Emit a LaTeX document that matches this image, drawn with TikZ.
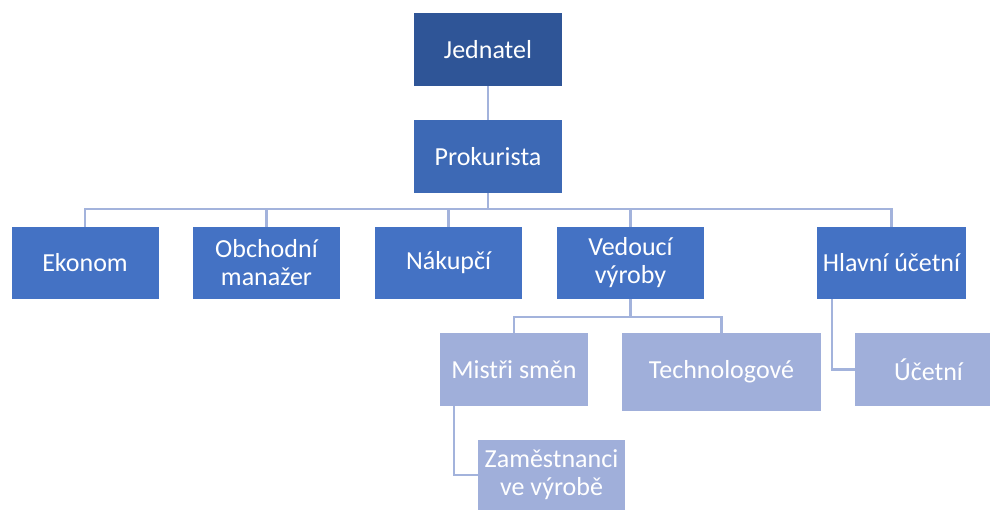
\documentclass[tikz,border=0pt]{standalone}
\usepackage{fontspec}
\setmainfont{Carlito}
\definecolor{cTop}{HTML}{2F5597}
\definecolor{cSec}{HTML}{3D69B5}
\definecolor{cMid}{HTML}{4472C4}
\definecolor{cLow}{HTML}{A0AFDA}
\definecolor{cLine}{HTML}{A3B3DC}
\begin{document}
\begin{tikzpicture}[x=1pt,y=-1pt,
  box/.style={draw=none,text=white,align=center,inner sep=0pt,
    font=\fontsize{26}{28}\selectfont,minimum width=147pt,minimum height=72pt},
  conn/.style={draw=cLine,line width=2.6pt}]
\useasboundingbox (0,0) rectangle (990,510);
\begin{scope}
\clip (0,0) rectangle (990,510);
\node[box,fill=cTop,minimum height=73pt,minimum width=148pt] (jed) at (488,49.5) {Jednatel};
\node[box,fill=cSec,minimum height=73pt,minimum width=148pt] (pro) at (488,156.5) {Prokurista};
\node[box,fill=cMid] (eko) at (85,263) {Ekonom};
\node[box,fill=cMid] (obc) at (266.5,263) {Obchodní\\manažer};
\node[box,fill=cMid] (nak) at (448.5,263) {Nákupčí};
\node[box,fill=cMid] (ved) at (630.5,263) {Vedoucí\\výroby};
\node[box,fill=cMid,minimum width=149pt] (hla) at (891.5,263) {Hlavní účetní};
\node[box,fill=cLow,minimum width=148pt,minimum height=73pt] (mis) at (514,369.5) {Mistři směn};
\node[box,fill=cLow,minimum width=199pt,minimum height=78pt] (tec) at (721.5,372) {Technologové};
\node[box,fill=cLow,minimum width=147pt,minimum height=73pt] (uce) at (928.5,369.5) {Účetní};
\node[box,fill=cLow,minimum width=147pt,minimum height=70pt] (zam) at (551.5,475) {Zaměstnanci\\ve výrobě};
\coordinate (bus) at (488,209);
\coordinate (vbus) at (630.5,317);
\coordinate (hl) at ([xshift=15pt]hla.south west);
\coordinate (ml) at ([xshift=14pt]mis.south west);
\draw[conn] (jed.south) -- (pro.north);
\draw[conn] (pro.south) -- (bus);
\draw[conn] (bus) -| (eko.north);
\draw[conn] (bus) -| (obc.north);
\draw[conn] (bus) -| (nak.north);
\draw[conn] (bus) -| (ved.north);
\draw[conn] (bus) -| (hla.north);
\draw[conn] (ved.south) -- (vbus);
\draw[conn] (vbus) -| (mis.north);
\draw[conn] (vbus) -| (tec.north);
\draw[conn] (hl) |- (uce.west);
\draw[conn] (ml) |- (zam.west);
\end{scope}
\end{tikzpicture}
\end{document}
